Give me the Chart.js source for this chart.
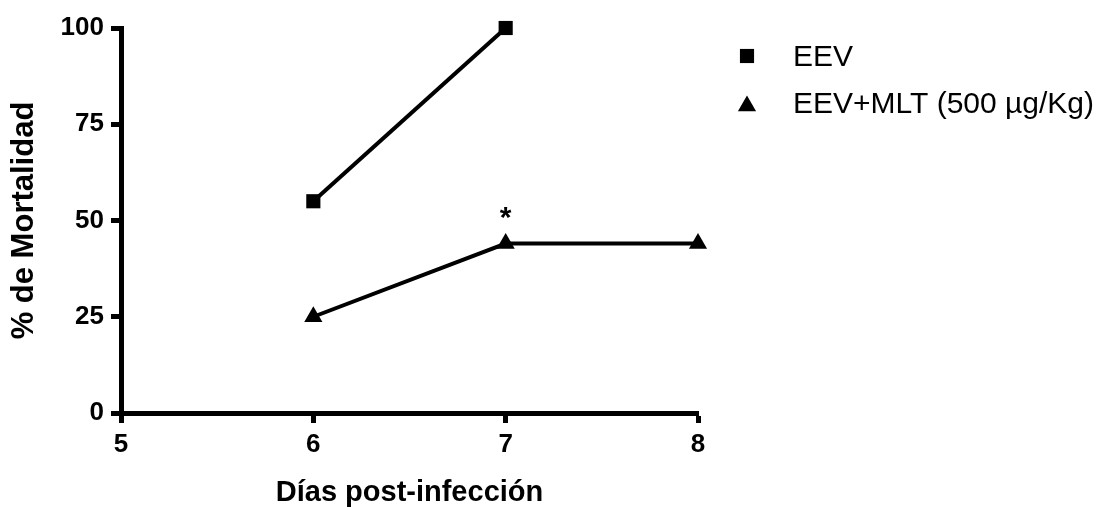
<!DOCTYPE html>
<html>
<head>
<meta charset="utf-8">
<script src="https://cdn.jsdelivr.net/npm/chart.js@4/dist/chart.umd.min.js"></script>
<style>
  html, body { margin: 0; padding: 0; background: #fff; }
  #wrap { width: 1110px; height: 507px; position: relative; }
</style>
</head>
<body>
<div id="wrap"><canvas id="c" width="1110" height="507"></canvas></div>
<script>
// ---- data ----
const seriesNames = ['EEV', 'EEV+MLT (500 \u00B5g/Kg)'];
const eevDays = [6, 7];
const eevMortality = [55, 100];
const mltDays = [6, 7, 8];
const mltMortality = [25, 44, 44];
const xTickValues = [5, 6, 7, 8];
const yTickValues = [0, 25, 50, 75, 100];
const xTitle = 'Días post-infección';
const yTitle = '% de Mortalidad';
const sigDay = 7;
const sigValue = 52;
const sigText = '*';

const FONT = '"Liberation Sans", Arial, Helvetica, sans-serif';

const toPts = (xs, ys) => xs.map((x, i) => ({ x: x, y: ys[i] }));

const annotationPlugin = {
  id: 'sigMark',
  afterDatasetsDraw(chart) {
    const ctx = chart.ctx;
    const x = chart.scales.x.getPixelForValue(sigDay);
    const y = chart.scales.y.getPixelForValue(sigValue);
    ctx.save();
    ctx.font = 'bold 30px ' + FONT;
    ctx.fillStyle = '#000';
    ctx.textAlign = 'center';
    ctx.textBaseline = 'alphabetic';
    const m = ctx.measureText(sigText);
    ctx.fillText(sigText, x, y + (m.actualBoundingBoxAscent - m.actualBoundingBoxDescent) / 2);
    ctx.restore();
  }
};

const legendPlugin = {
  id: 'sideLegend',
  afterDraw(chart) {
    const ctx = chart.ctx;
    const area = chart.chartArea;
    const markerX = area.right + 49;
    const textX = area.right + 95;
    const rows = [56, 103];
    ctx.save();
    ctx.font = '30px ' + FONT;
    ctx.fillStyle = '#000';
    ctx.textAlign = 'left';
    ctx.textBaseline = 'alphabetic';
    chart.data.datasets.forEach((ds, i) => {
      const cy = rows[i];
      const my = ds.pointStyle === 'triangle' ? cy + 3 : cy;
      ctx.fillStyle = '#000';
      ctx.strokeStyle = '#000';
      Chart.helpers.drawPoint(ctx, {
        pointStyle: ds.pointStyle,
        radius: ds.pointStyle === 'triangle' ? 10.5 : 10,
        rotation: 0,
        borderWidth: 0
      }, markerX, my);
      const m = ctx.measureText('E');
      ctx.fillText(ds.label, textX, cy + m.actualBoundingBoxAscent / 2);
    });
    ctx.restore();
  }
};

new Chart(document.getElementById('c'), {
  type: 'line',
  data: {
    datasets: [
      {
        label: seriesNames[0],
        data: toPts(eevDays, eevMortality),
        borderColor: '#000',
        backgroundColor: '#000',
        borderWidth: 4,
        pointStyle: 'rect',
        pointRadius: 10,
        pointBackgroundColor: '#000',
        pointBorderColor: '#000',
        pointBorderWidth: 0,
        clip: false,
        tension: 0
      },
      {
        label: seriesNames[1],
        data: toPts(mltDays, mltMortality),
        borderColor: '#000',
        backgroundColor: '#000',
        borderWidth: 4,
        pointStyle: 'triangle',
        pointRadius: 10.5,
        pointBackgroundColor: '#000',
        pointBorderColor: '#000',
        pointBorderWidth: 0,
        clip: false,
        tension: 0
      }
    ]
  },
  options: {
    responsive: false,
    animation: false,
    layout: { padding: { top: 28, right: 412, left: 0, bottom: 0 } },
    plugins: { legend: { display: false }, tooltip: { enabled: false } },
    events: [],
    scales: {
      x: {
        type: 'linear',
        min: 5, max: 8,
        afterBuildTicks: s => { s.ticks = xTickValues.map(v => ({ value: v })); },
        afterFit: s => { s.height = 94; },
        grid: { drawOnChartArea: false, drawTicks: true, tickLength: 10, tickWidth: 5, tickColor: '#000', color: '#000' },
        border: { display: true, color: '#000', width: 5 },
        ticks: { color: '#000', padding: 9, font: { family: FONT, size: 26, weight: 'bold', lineHeight: 1 }, maxRotation: 0 },
        title: { display: true, text: xTitle, color: '#000', padding: { top: 0, bottom: 0 }, font: { family: FONT, size: 29, weight: 'bold', lineHeight: 1 } }
      },
      y: {
        type: 'linear',
        min: 0, max: 100,
        afterBuildTicks: s => { s.ticks = yTickValues.map(v => ({ value: v })); },
        afterFit: s => { s.width = 121; },
        grid: { drawOnChartArea: false, drawTicks: true, tickLength: 10, tickWidth: 5, tickColor: '#000', color: '#000' },
        border: { display: true, color: '#000', width: 5 },
        ticks: { color: '#000', padding: 7, font: { family: FONT, size: 26, weight: 'bold', lineHeight: 1 } },
        title: { display: true, text: yTitle, color: '#000', padding: { top: 9, bottom: 0 }, font: { family: FONT, size: 31, weight: 'bold', lineHeight: 1 } }
      }
    }
  },
  plugins: [annotationPlugin, legendPlugin]
});
</script>
</body>
</html>
